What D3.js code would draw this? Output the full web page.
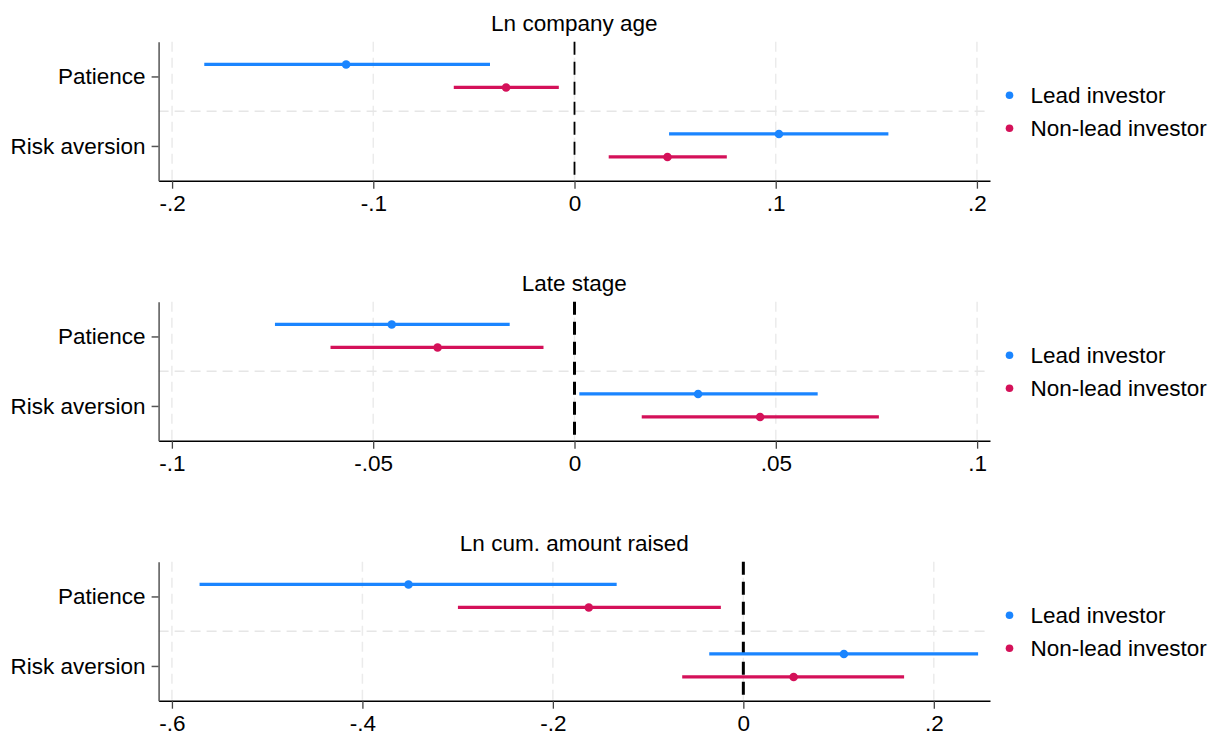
<!DOCTYPE html>
<html>
<head>
<meta charset="utf-8">
<script src="https://cdn.jsdelivr.net/npm/d3@7"></script>
<style>
	body { margin: 0; background: #fff; }
	svg { display: block; }
</style>
</head>
<body>
<script>
// categories / series / panels
var categories = ["Patience", "Risk aversion"];
var seriesNames = ["Lead investor", "Non-lead investor"];
var panelTitles = ["Ln company age", "Late stage", "Ln cum. amount raised"];

// Ln company age
var ageLead = [-0.1135, 0.1016];
var ageLeadLo = [-0.184, 0.047];
var ageLeadHi = [-0.042, 0.156];
var ageNon = [-0.034, 0.0462];
var ageNonLo = [-0.060, 0.017];
var ageNonHi = [-0.0078, 0.0757];

// Late stage
var lateLead = [-0.0454, 0.0307];
var lateLeadLo = [-0.0744, 0.0012];
var lateLeadHi = [-0.0161, 0.0604];
var lateNon = [-0.034, 0.0461];
var lateNonLo = [-0.0606, 0.0167];
var lateNonHi = [-0.0077, 0.0756];

// Ln cum. amount raised
var amtLead = [-0.3516, 0.1056];
var amtLeadLo = [-0.571, -0.0358];
var amtLeadHi = [-0.133, 0.2465];
var amtNon = [-0.1623, 0.0528];
var amtNonLo = [-0.2997, -0.0642];
var amtNonHi = [-0.0236, 0.1688];

// x axes
var ageTicks = [-0.2, -0.1, 0, 0.1, 0.2];
var lateTicks = [-0.1, -0.05, 0, 0.05, 0.1];
var amtTicks = [-0.6, -0.4, -0.2, 0, 0.2];
var ageDomain = [-0.2067, 0.2065];
var lateDomain = [-0.1033, 0.1032];
var amtDomain = [-0.614, 0.259];

var panels = [
	{title: panelTitles[0], ticks: ageTicks, domain: ageDomain,
	 est: [ageLead, ageNon], lo: [ageLeadLo, ageNonLo], hi: [ageLeadHi, ageNonHi]},
	{title: panelTitles[1], ticks: lateTicks, domain: lateDomain,
	 est: [lateLead, lateNon], lo: [lateLeadLo, lateNonLo], hi: [lateLeadHi, lateNonHi]},
	{title: panelTitles[2], ticks: amtTicks, domain: amtDomain,
	 est: [amtLead, amtNon], lo: [amtLeadLo, amtNonLo], hi: [amtLeadHi, amtNonHi]}
];

var colors = ["#1A85FF", "#D41159"];
var offsets = [-12, 11];
var zeroWidth = [1.8, 3, 3];

var W = 1212, H = 733;
var left = 158.6, right = 990;
var tops = [41.7, 301.7, 561.7];
var ph = 139;
var font = "'Liberation Sans', Helvetica, Arial, sans-serif";
var fs = 22.5;

var svg = d3.select("body").append("svg")
	.attr("width", W)
	.attr("height", H)
	.style("font-family", font);

function fmt(d){
	if(d == 0) return "0";
	return String(+d.toFixed(3)).replace("0.", ".");
}

panels.forEach(function(p, pi){
	var top = tops[pi];
	var x = d3.scaleLinear().domain(p.domain).range([left, right]);
	var y = d3.scalePoint().domain(categories).range([top, top + ph]).padding(0.5);

	var g = svg.append("g");

	// grid
	g.selectAll(".vgrid")
		.data(p.ticks)
		.enter()
		.append("line")
		.attr("x1", function(d){ return x(d); })
		.attr("x2", function(d){ return x(d); })
		.attr("y1", top)
		.attr("y2", top + ph)
		.attr("stroke", "#ebebeb")
		.attr("stroke-width", 1.5)
		.attr("stroke-dasharray", "10,6");

	g.append("line")
		.attr("x1", left)
		.attr("x2", right)
		.attr("y1", top + ph / 2)
		.attr("y2", top + ph / 2)
		.attr("stroke", "#e6e6e6")
		.attr("stroke-width", 1.5)
		.attr("stroke-dasharray", "10,6");

	// zero line
	g.append("line")
		.attr("x1", x(0))
		.attr("x2", x(0))
		.attr("y1", top)
		.attr("y2", top + ph)
		.attr("stroke", "black")
		.attr("stroke-width", zeroWidth[pi])
		.attr("stroke-dasharray", "13,7");

	// CIs + points
	for(var s = 0; s < 2; s++){
		var rows = categories.map(function(c, i){
			return {cat: c, est: p.est[s][i], lo: p.lo[s][i], hi: p.hi[s][i]};
		});
		var off = offsets[s];
		g.selectAll(".ci" + s)
			.data(rows)
			.enter()
			.append("line")
			.attr("x1", function(d){ return x(d.lo); })
			.attr("x2", function(d){ return x(d.hi); })
			.attr("y1", function(d){ return y(d.cat) + off; })
			.attr("y2", function(d){ return y(d.cat) + off; })
			.attr("stroke", colors[s])
			.attr("stroke-width", 3.2);
		g.selectAll(".pt" + s)
			.data(rows)
			.enter()
			.append("circle")
			.attr("cx", function(d){ return x(d.est); })
			.attr("cy", function(d){ return y(d.cat) + off; })
			.attr("r", 4.3)
			.attr("fill", colors[s]);
	}

	// axes
	var xAxis = g.append("g")
		.attr("transform", "translate(0," + (top + ph) + ")")
		.call(d3.axisBottom(x).tickValues(p.ticks).tickFormat(fmt).tickSize(8).tickPadding(6).tickSizeOuter(0));
	xAxis.select(".domain").attr("stroke", "black").attr("stroke-width", 1.5);
	xAxis.selectAll(".tick line").attr("stroke", "#444").attr("stroke-width", 1.3);
	xAxis.selectAll("text").attr("font-size", fs).attr("font-family", font).attr("fill", "black");

	var yAxis = g.append("g")
		.attr("transform", "translate(" + left + ",0)")
		.call(d3.axisLeft(y).tickSize(7).tickPadding(6).tickSizeOuter(0));
	yAxis.select(".domain").attr("stroke", "#555").attr("stroke-width", 1.5);
	yAxis.selectAll(".tick line").attr("stroke", "#555").attr("stroke-width", 1.5);
	yAxis.selectAll("text").attr("font-size", fs).attr("font-family", font).attr("fill", "black");

	// title
	g.append("text")
		.attr("x", (left + right) / 2)
		.attr("y", top - 10.5)
		.attr("text-anchor", "middle")
		.attr("font-size", fs)
		.attr("fill", "black")
		.text(p.title);

	// legend
	var mid = top + ph / 2;
	var ly = [mid - 16, mid + 17];
	var leg = g.selectAll(".leg")
		.data(seriesNames)
		.enter()
		.append("g");
	leg.append("circle")
		.attr("cx", 1009.5)
		.attr("cy", function(d, i){ return ly[i]; })
		.attr("r", 3.8)
		.attr("fill", function(d, i){ return colors[i]; });
	leg.append("text")
		.attr("x", 1030.5)
		.attr("y", function(d, i){ return ly[i]; })
		.attr("dy", "0.35em")
		.attr("font-size", fs)
		.attr("fill", "black")
		.text(function(d){ return d; });
});
</script>
</body>
</html>
